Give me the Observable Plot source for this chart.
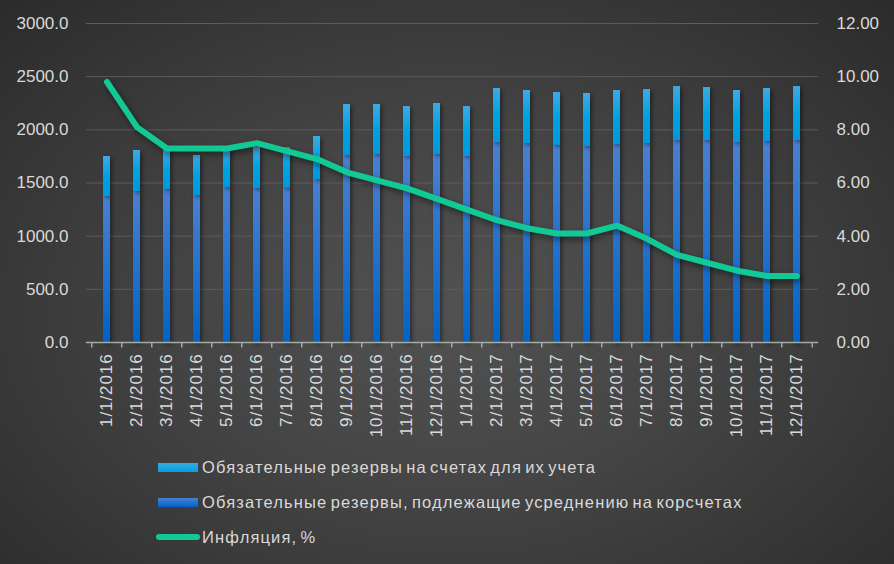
<!DOCTYPE html>
<html>
<head>
<meta charset="utf-8">
<script src="https://cdn.jsdelivr.net/npm/d3@7"></script>
<script src="https://cdn.jsdelivr.net/npm/@observablehq/plot@0.6"></script>
<style>
  html, body { margin: 0; padding: 0; background: #2a2a2a; }
  #wrap {
    position: relative; width: 894px; height: 564px; overflow: hidden;
    background: radial-gradient(ellipse farthest-corner at 50% 55%, #525252 0%, #454545 40%, #2b2b2b 100%);
    font-family: "Liberation Sans", Arial, sans-serif;
  }
  #chart { position: absolute; left: 0; top: 0; }
  .leg { position: absolute; left: 0; top: 0; color: #d9d9d9; font-size: 16.5px; letter-spacing: 1.15px; word-spacing: -2.5px; white-space: nowrap; }
  .leg .item { position: absolute; left: 158px; height: 20px; display: flex; align-items: center; }
  .leg .sw { width: 40px; height: 9px; margin-right: 4px; }
  .leg .ln { width: 44px; height: 6px; border-radius: 3px; margin-left: -2px; margin-right: 2px; background: #12c995; }
</style>
</head>
<body>
<div id="wrap">
  <div id="chart"></div>
  <div class="leg">
    <div class="item" style="top:457px"><div class="sw" style="background:linear-gradient(#3aa8e2,#00a0e0)"></div><span id="l1"></span></div>
    <div class="item" style="top:492px"><div class="sw" style="background:linear-gradient(#4a80d0,#0064c8)"></div><span id="l2"></span></div>
    <div class="item" style="top:527px"><div class="ln"></div><span id="l3"></span></div>
  </div>
</div>
<script>
const months = ["1/1/2016","2/1/2016","3/1/2016","4/1/2016","5/1/2016","6/1/2016","7/1/2016","8/1/2016","9/1/2016","10/1/2016","11/1/2016","12/1/2016",
                "1/1/2017","2/1/2017","3/1/2017","4/1/2017","5/1/2017","6/1/2017","7/1/2017","8/1/2017","9/1/2017","10/1/2017","11/1/2017","12/1/2017"];
// Обязательные резервы, подлежащие усреднению на корсчетах
const averaged = [1373,1420,1439,1382,1458,1448,1451,1533,1759,1768,1749,1768,1749,1881,1871,1853,1843,1862,1871,1900,1900,1881,1890,1900];
// Обязательные резервы на счетах для их учета
const accounts = [376,386,371,377,367,389,380,404,479,470,470,480,470,508,499,498,499,508,508,507,498,489,499,507];
// Инфляция, %
const inflation = [9.8,8.1,7.3,7.3,7.3,7.5,7.2,6.9,6.4,6.1,5.8,5.4,5.0,4.6,4.3,4.1,4.1,4.4,3.9,3.3,3.0,2.7,2.5,2.5];
const leftTicks = [0,500,1000,1500,2000,2500,3000];
const seriesNames = ["Обязательные резервы на счетах для их учета","Обязательные резервы, подлежащие усреднению на корсчетах","Инфляция, %"];

document.getElementById("l1").textContent = seriesNames[0];
document.getElementById("l2").textContent = seriesNames[1];
document.getElementById("l3").textContent = seriesNames[2];

const ratio = 3000 / 12; // right axis 0..12 maps to left axis 0..3000
const rows = months.map((m, i) => ({m, avg: averaged[i], acc: accounts[i], top: averaged[i] + accounts[i], infl: inflation[i]}));

const axisStyle = {fontSize: 17, fill: "#d9d9d9"};
const chart = Plot.plot({
  width: 894,
  height: 446,
  marginLeft: 86,
  marginRight: 76,
  marginTop: 23,
  marginBottom: 104,
  style: {background: "transparent", color: "#d9d9d9", fontFamily: "'Liberation Sans', Arial, sans-serif", fontSize: "17px", overflow: "visible"},
  x: {domain: months, paddingInner: 0.76, paddingOuter: 0.38, label: null},
  y: {domain: [0, 3000], label: null},
  marks: [
    Plot.gridY(leftTicks.filter(d => d > 0), {stroke: "#5c5c5c", strokeOpacity: 1, strokeWidth: 1}),
    Plot.barY(rows, {x: "m", y1: 0, y2: "avg", fill: "url(#gAvg)", className: "bars"}),
    Plot.barY(rows, {x: "m", y1: "avg", y2: "top", fill: "url(#gAcc)", className: "bars"}),
    Plot.ruleY([0], {stroke: "#a8a8a8", strokeWidth: 1.5}),
    Plot.ruleX(months, {x: d => d, dx: -15.25, y1: 0, y2: -52, stroke: "#a8a8a8", strokeWidth: 1.5}),
    Plot.ruleX([months[months.length - 1]], {x: d => d, dx: 15.25, y1: 0, y2: -52, stroke: "#a8a8a8", strokeWidth: 1.5}),
    Plot.lineY(rows, {x: "m", y: d => d.infl * ratio, stroke: "#12c995", strokeWidth: 6, strokeLinejoin: "round", strokeLinecap: "round", className: "infl"}),
    Plot.axisY(leftTicks, {anchor: "left", tickSize: 0, tickPadding: 18, tickFormat: d => d.toFixed(1), label: null, ...axisStyle}),
    Plot.axisY(leftTicks, {anchor: "right", tickSize: 0, tickPadding: 18, tickFormat: d => (d / ratio).toFixed(2), label: null, ...axisStyle}),
    Plot.axisX({tickSize: 0, tickPadding: 11, tickRotate: -90, label: null, className: "xax", ...axisStyle})
  ]
});

const defs = document.createElementNS("http://www.w3.org/2000/svg", "defs");
defs.innerHTML = `
  <linearGradient id="gAvg" x1="0" y1="0" x2="0" y2="1">
    <stop offset="0" stop-color="#4a80d0"/><stop offset="1" stop-color="#0063c6"/>
  </linearGradient>
  <linearGradient id="gAcc" x1="0" y1="0" x2="0" y2="1">
    <stop offset="0" stop-color="#40a9e2"/><stop offset="0.5" stop-color="#00a2e2"/><stop offset="1" stop-color="#0099dc"/>
  </linearGradient>`;
chart.insertBefore(defs, chart.firstChild);
chart.querySelectorAll(".bars").forEach(g => g.style.filter = "drop-shadow(2px 2px 2px rgba(0,0,0,0.45))");
chart.querySelectorAll(".infl").forEach(g => g.style.filter = "drop-shadow(2px 3px 3px rgba(0,0,0,0.5))");
chart.querySelectorAll(".xax text").forEach(t => t.style.letterSpacing = "0.9px");
document.getElementById("chart").appendChild(chart);
</script>
</body>
</html>
